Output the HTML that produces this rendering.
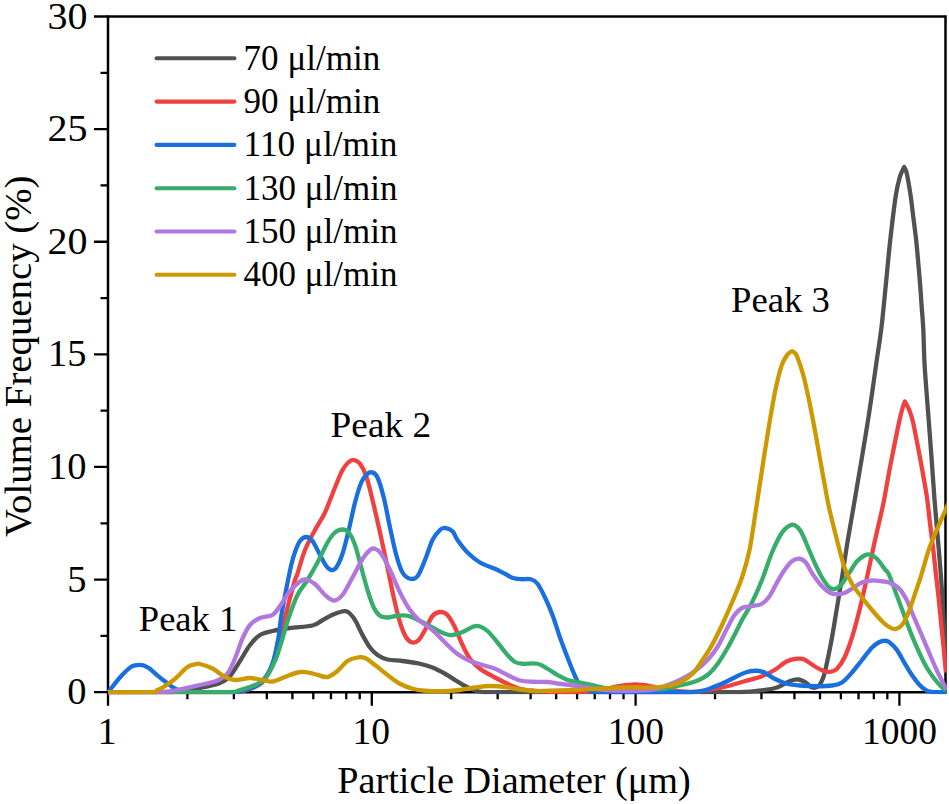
<!DOCTYPE html>
<html><head><meta charset="utf-8"><title>Particle size distribution</title>
<style>
html,body{margin:0;padding:0;background:#fff;}
body{width:949px;height:804px;overflow:hidden;}
svg{display:block;font-family:"Liberation Serif",serif;fill:#000;}
.tx{font-size:37.5px;}
.ty{font-size:38.5px;}
.lg{font-size:34.8px;}
.pk{font-size:35.6px;}
.c{fill:none;stroke-width:4.3;stroke-linejoin:round;stroke-linecap:butt;}
.ax{stroke:#000;stroke-width:2.5;fill:none;stroke-linecap:butt;}
</style></head>
<body>
<svg width="949" height="804" viewBox="0 0 949 804">
<rect width="949" height="804" fill="#fff"/>
<g class="ax">
<path d="M108.00 16.50 H945.50 V692.20 H108.00 Z"/>
<path stroke-width="2.3" d="M108.00 692.20H94.00M108.00 635.89H100.50M108.00 579.58H94.00M108.00 523.28H100.50M108.00 466.97H94.00M108.00 410.66H100.50M108.00 354.35H94.00M108.00 298.04H100.50M108.00 241.73H94.00M108.00 185.43H100.50M108.00 129.12H94.00M108.00 72.81H100.50M108.00 16.50H94.00M108.00 692.20V705.70M187.41 692.20V699.20M233.86 692.20V699.20M266.82 692.20V699.20M292.39 692.20V699.20M313.28 692.20V699.20M330.94 692.20V699.20M346.24 692.20V699.20M359.73 692.20V699.20M371.80 692.20V705.70M451.21 692.20V699.20M497.66 692.20V699.20M530.62 692.20V699.20M556.19 692.20V699.20M577.08 692.20V699.20M594.74 692.20V699.20M610.04 692.20V699.20M623.53 692.20V699.20M635.60 692.20V705.70M715.01 692.20V699.20M761.46 692.20V699.20M794.42 692.20V699.20M819.99 692.20V699.20M840.88 692.20V699.20M858.54 692.20V699.20M873.84 692.20V699.20M887.33 692.20V699.20M899.40 692.20V705.70"/>
</g>
<defs><clipPath id="cp"><rect x="106.75" y="15.25" width="840.10" height="679.20"/></clipPath></defs>
<g clip-path="url(#cp)">
<path class="c" stroke="#515151" d="M108.00 692.10 C115.00 692.10 138.83 692.15 150.00 692.10 C161.17 692.05 166.67 692.20 175.00 691.80 C183.33 691.12 192.50 689.47 200.00 688.00 C207.50 686.53 215.00 685.00 220.00 683.00 C225.00 681.00 226.67 679.67 230.00 676.00 C233.33 672.33 236.67 666.17 240.00 661.00 C243.33 655.83 246.67 649.33 250.00 645.00 C253.33 640.67 256.25 637.33 260.00 635.00 C263.75 632.67 267.50 632.17 272.50 631.00 C277.50 629.83 283.33 628.92 290.00 628.00 C296.67 627.08 307.17 626.75 312.50 625.50 C317.83 624.25 318.75 622.25 322.00 620.50 C325.25 618.75 328.67 616.50 332.00 615.00 C335.33 613.50 339.33 612.00 342.00 611.50 C344.67 611.00 345.83 610.58 348.00 612.00 C350.17 613.42 352.58 616.17 355.00 620.00 C357.42 623.83 360.00 630.42 362.50 635.00 C365.00 639.58 367.50 644.17 370.00 647.50 C372.50 650.83 374.58 653.00 377.50 655.00 C380.42 657.00 383.33 658.50 387.50 659.50 C391.67 660.50 397.08 660.29 402.50 661.00 C407.92 661.71 415.00 662.67 420.00 663.75 C425.00 664.83 428.33 665.83 432.50 667.50 C436.67 669.17 441.25 671.67 445.00 673.75 C448.75 675.83 451.67 677.96 455.00 680.00 C458.33 682.04 461.67 684.25 465.00 686.00 C468.33 687.75 472.00 689.48 475.00 690.50 C478.00 691.52 478.83 691.83 483.00 692.10 C487.17 692.20 480.50 692.10 500.00 692.10 C519.50 692.10 566.67 692.10 600.00 692.10 C633.33 692.10 676.67 692.10 700.00 692.10 C723.33 692.10 729.67 692.20 740.00 692.10 C750.33 691.80 755.83 691.07 762.00 690.30 C768.17 689.53 772.42 689.01 777.00 687.50 C781.58 685.99 785.96 682.58 789.50 681.25 C793.04 679.92 795.54 679.29 798.25 679.50 C800.96 679.71 803.46 681.17 805.75 682.50 C808.04 683.83 809.92 686.88 812.00 687.50 C814.08 688.12 816.38 687.92 818.25 686.25 C820.12 684.58 821.79 681.46 823.25 677.50 C824.71 673.54 825.54 669.17 827.00 662.50 C828.46 655.83 830.33 646.67 832.00 637.50 C833.67 628.33 835.33 617.50 837.00 607.50 C838.67 597.50 840.33 587.92 842.00 577.50 C843.67 567.08 845.17 556.25 847.00 545.00 C848.83 533.75 850.58 524.17 853.00 510.00 C855.42 495.83 858.78 476.33 861.50 460.00 C864.22 443.67 866.80 428.33 869.30 412.00 C871.80 395.67 874.47 376.17 876.50 362.00 C878.53 347.83 879.92 340.17 881.50 327.00 C883.08 313.83 884.53 297.57 886.00 283.00 C887.47 268.43 888.65 254.30 890.30 239.60 C891.95 224.90 894.30 205.25 895.90 194.80 C897.50 184.35 898.85 180.87 899.90 176.90 C900.95 172.93 901.48 172.65 902.20 171.00 C902.92 169.35 903.87 167.67 904.20 167.00 C904.52 167.67 905.55 169.35 906.10 171.00 C906.65 172.65 906.77 172.93 907.50 176.90 C908.23 180.87 909.53 188.12 910.50 194.80 C911.47 201.48 912.37 209.53 913.30 217.00 C914.23 224.47 915.28 232.10 916.10 239.60 C916.92 247.10 917.53 254.52 918.20 262.00 C918.87 269.48 919.52 277.00 920.10 284.50 C920.68 292.00 921.17 299.53 921.70 307.00 C922.23 314.47 922.82 319.67 923.30 329.30 C923.78 338.93 923.83 351.42 924.60 364.80 C925.37 378.18 926.78 394.65 927.90 409.60 C929.02 424.55 930.20 439.55 931.30 454.50 C932.40 469.45 933.25 483.42 934.50 499.30 C935.75 515.18 937.75 537.23 938.80 549.80 C939.85 562.37 940.18 566.40 940.80 574.70 C941.42 583.00 941.92 589.38 942.50 599.60 C943.08 609.82 943.78 625.27 944.30 636.00 C944.82 646.73 945.38 659.33 945.60 664.00"/>
<path class="c" stroke="#F14040" d="M108.00 692.10 C123.33 692.10 178.67 692.10 200.00 692.10 C221.33 692.10 227.67 692.20 236.00 692.10 C244.33 691.58 245.58 690.68 250.00 689.00 C254.42 687.32 258.75 686.00 262.50 682.00 C266.25 678.00 269.83 672.00 272.50 665.00 C275.17 658.00 276.92 646.17 278.50 640.00 C280.08 633.83 280.83 632.08 282.00 628.00 C283.17 623.92 284.17 620.50 285.50 615.50 C286.83 610.50 288.42 603.92 290.00 598.00 C291.58 592.08 293.75 584.08 295.00 580.00 C296.25 575.92 295.83 578.50 297.50 573.50 C299.17 568.50 302.08 557.25 305.00 550.00 C307.92 542.75 311.67 536.25 315.00 530.00 C318.33 523.75 321.67 519.58 325.00 512.50 C328.33 505.42 332.08 494.58 335.00 487.50 C337.92 480.42 340.21 474.25 342.50 470.00 C344.79 465.75 346.88 463.67 348.75 462.00 C350.62 460.33 351.88 459.71 353.75 460.00 C355.62 460.29 357.92 461.04 360.00 463.75 C362.08 466.46 364.17 470.21 366.25 476.25 C368.33 482.29 370.21 490.62 372.50 500.00 C374.79 509.38 377.50 521.25 380.00 532.50 C382.50 543.75 385.21 556.67 387.50 567.50 C389.79 578.33 391.67 588.33 393.75 597.50 C395.83 606.67 397.92 615.83 400.00 622.50 C402.08 629.17 404.17 634.17 406.25 637.50 C408.33 640.83 410.42 642.08 412.50 642.50 C414.58 642.92 416.67 642.08 418.75 640.00 C420.83 637.92 422.71 634.00 425.00 630.00 C427.29 626.00 430.00 619.00 432.50 616.00 C435.00 613.00 437.50 612.17 440.00 612.00 C442.50 611.83 445.00 612.42 447.50 615.00 C450.00 617.58 452.50 622.50 455.00 627.50 C457.50 632.50 460.00 639.79 462.50 645.00 C465.00 650.21 467.08 654.79 470.00 658.75 C472.92 662.71 475.83 665.62 480.00 668.75 C484.17 671.88 490.42 675.00 495.00 677.50 C499.58 680.00 503.33 681.88 507.50 683.75 C511.67 685.62 515.83 687.58 520.00 688.75 C524.17 689.92 527.50 690.24 532.50 690.75 C537.50 691.26 540.42 691.67 550.00 691.80 C559.58 691.92 580.50 692.01 590.00 691.50 C599.50 690.99 602.00 689.67 607.00 688.75 C612.00 687.83 615.33 686.71 620.00 686.00 C624.67 685.29 630.00 684.50 635.00 684.50 C640.00 684.50 645.50 685.29 650.00 686.00 C654.50 686.71 657.83 687.92 662.00 688.75 C666.17 689.58 670.33 690.49 675.00 691.00 C679.67 691.51 685.83 691.75 690.00 691.80 C694.17 691.85 696.33 691.68 700.00 691.30 C703.67 690.92 707.50 690.34 712.00 689.50 C716.50 688.66 721.58 687.62 727.00 686.25 C732.42 684.88 738.67 682.92 744.50 681.25 C750.33 679.58 757.00 678.12 762.00 676.25 C767.00 674.38 770.33 672.50 774.50 670.00 C778.67 667.50 783.25 663.12 787.00 661.25 C790.75 659.38 794.08 659.04 797.00 658.75 C799.92 658.46 801.58 658.25 804.50 659.50 C807.42 660.75 811.17 664.29 814.50 666.25 C817.83 668.21 821.79 670.33 824.50 671.25 C827.21 672.17 828.67 672.17 830.75 671.75 C832.83 671.33 834.71 671.12 837.00 668.75 C839.29 666.38 842.00 662.71 844.50 657.50 C847.00 652.29 849.50 645.42 852.00 637.50 C854.50 629.58 857.00 620.00 859.50 610.00 C862.00 600.00 864.50 588.75 867.00 577.50 C869.50 566.25 872.08 553.42 874.50 542.50 C876.92 531.58 879.88 519.20 881.50 512.00 C883.12 504.80 883.25 504.22 884.20 499.30 C885.15 494.38 886.18 488.10 887.20 482.50 C888.22 476.90 889.23 471.28 890.30 465.70 C891.37 460.12 892.48 454.62 893.60 449.00 C894.72 443.38 895.85 437.50 897.00 432.00 C898.15 426.50 899.50 420.25 900.50 416.00 C901.50 411.75 902.27 408.92 903.00 406.50 C903.73 404.08 904.58 402.33 904.90 401.50 C905.22 402.08 906.03 403.50 906.80 405.00 C907.57 406.50 908.52 407.87 909.50 410.50 C910.48 413.13 911.62 416.38 912.70 420.80 C913.78 425.22 914.88 431.38 916.00 437.00 C917.12 442.62 918.15 447.83 919.40 454.50 C920.65 461.17 922.20 469.53 923.50 477.00 C924.80 484.47 926.08 491.30 927.20 499.30 C928.32 507.30 929.18 516.58 930.20 525.00 C931.22 533.42 932.33 541.47 933.30 549.80 C934.27 558.13 935.08 566.70 936.00 575.00 C936.92 583.30 937.92 591.27 938.80 599.60 C939.68 607.93 940.47 616.70 941.30 625.00 C942.13 633.30 943.03 641.48 943.80 649.40 C944.57 657.32 945.55 668.65 945.90 672.50"/>
<path class="c" stroke="#1A6FDF" d="M108.50 692.10 C109.18 691.17 110.37 689.30 112.60 686.50 C114.83 683.70 118.95 678.48 121.90 675.30 C124.85 672.12 128.12 669.05 130.30 667.40 C132.48 665.75 133.45 665.83 135.00 665.40 C136.55 664.97 138.10 664.77 139.60 664.80 C141.10 664.83 142.47 665.05 144.00 665.60 C145.53 666.15 146.58 666.48 148.80 668.10 C151.02 669.72 154.48 672.98 157.30 675.30 C160.12 677.62 163.17 680.03 165.70 682.00 C168.23 683.97 170.12 685.60 172.50 687.10 C174.88 688.60 177.75 690.17 180.00 691.00 C182.25 691.83 182.67 691.92 186.00 692.10 C189.33 692.20 191.83 692.10 200.00 692.10 C208.17 692.10 226.67 692.20 235.00 692.10 C243.33 691.50 245.42 690.35 250.00 688.50 C254.58 686.65 258.75 685.17 262.50 681.00 C266.25 676.83 269.79 671.00 272.50 663.50 C275.21 656.00 277.33 643.67 278.75 636.00 C280.17 628.33 279.88 624.67 281.00 617.50 C282.12 610.33 283.83 601.58 285.50 593.00 C287.17 584.42 289.42 572.83 291.00 566.00 C292.58 559.17 293.50 556.17 295.00 552.00 C296.50 547.83 298.12 543.50 300.00 541.00 C301.88 538.50 304.17 537.00 306.25 537.00 C308.33 537.00 310.21 538.00 312.50 541.00 C314.79 544.00 317.71 550.83 320.00 555.00 C322.29 559.17 324.38 563.50 326.25 566.00 C328.12 568.50 329.58 569.75 331.25 570.00 C332.92 570.25 334.38 570.21 336.25 567.50 C338.12 564.79 340.42 560.00 342.50 553.75 C344.58 547.50 346.67 538.54 348.75 530.00 C350.83 521.46 352.92 510.42 355.00 502.50 C357.08 494.58 359.17 487.29 361.25 482.50 C363.33 477.71 365.62 475.42 367.50 473.75 C369.38 472.08 370.83 471.88 372.50 472.50 C374.17 473.12 375.62 473.33 377.50 477.50 C379.38 481.67 381.67 489.17 383.75 497.50 C385.83 505.83 387.92 517.92 390.00 527.50 C392.08 537.08 394.17 547.50 396.25 555.00 C398.33 562.50 400.21 568.54 402.50 572.50 C404.79 576.46 407.50 578.12 410.00 578.75 C412.50 579.38 415.00 579.38 417.50 576.25 C420.00 573.12 422.50 566.04 425.00 560.00 C427.50 553.96 430.00 545.00 432.50 540.00 C435.00 535.00 437.92 532.00 440.00 530.00 C442.08 528.00 442.92 527.79 445.00 528.00 C447.08 528.21 450.42 529.25 452.50 531.25 C454.58 533.25 455.00 536.46 457.50 540.00 C460.00 543.54 463.75 548.75 467.50 552.50 C471.25 556.25 475.42 559.79 480.00 562.50 C484.58 565.21 490.83 566.88 495.00 568.75 C499.17 570.62 502.00 572.21 505.00 573.75 C508.00 575.29 510.33 577.09 513.00 578.00 C515.67 578.91 518.00 578.98 521.00 579.20 C524.00 579.42 528.25 578.54 531.00 579.30 C533.75 580.06 535.17 580.72 537.50 583.75 C539.83 586.78 542.50 592.29 545.00 597.50 C547.50 602.71 550.00 608.33 552.50 615.00 C555.00 621.67 557.50 630.42 560.00 637.50 C562.50 644.58 565.00 651.08 567.50 657.50 C570.00 663.92 572.92 671.42 575.00 676.00 C577.08 680.58 577.92 682.67 580.00 685.00 C582.08 687.33 584.17 688.82 587.50 690.00 C590.83 691.18 589.58 691.75 600.00 692.10 C610.42 692.20 635.00 692.10 650.00 692.10 C665.00 692.10 681.67 692.20 690.00 692.10 C698.33 691.95 697.17 691.62 700.00 691.20 C702.83 690.78 704.67 690.33 707.00 689.60 C709.33 688.87 711.08 687.98 714.00 686.80 C716.92 685.62 720.67 684.26 724.50 682.50 C728.33 680.74 733.25 678.00 737.00 676.25 C740.75 674.50 743.67 672.92 747.00 672.00 C750.33 671.08 754.08 670.67 757.00 670.75 C759.92 670.83 761.58 671.17 764.50 672.50 C767.42 673.83 770.75 676.88 774.50 678.75 C778.25 680.62 782.83 682.62 787.00 683.75 C791.17 684.88 794.50 685.08 799.50 685.50 C804.50 685.92 811.58 686.25 817.00 686.25 C822.42 686.25 827.83 686.12 832.00 685.50 C836.17 684.88 838.67 684.67 842.00 682.50 C845.33 680.33 848.67 676.25 852.00 672.50 C855.33 668.75 858.67 664.17 862.00 660.00 C865.33 655.83 869.08 650.50 872.00 647.50 C874.92 644.50 877.42 643.12 879.50 642.00 C881.58 640.88 882.92 640.77 884.50 640.75 C886.08 640.73 887.00 640.46 889.00 641.90 C891.00 643.34 894.02 646.08 896.50 649.40 C898.98 652.72 901.42 657.65 903.90 661.80 C906.38 665.95 908.90 670.57 911.40 674.30 C913.90 678.03 916.42 681.52 918.90 684.20 C921.38 686.88 923.82 689.08 926.30 690.40 C928.78 691.72 930.43 691.82 933.80 692.10 C937.17 692.20 944.38 692.10 946.50 692.10"/>
<path class="c" stroke="#37AD6B" d="M108.00 692.10 C120.33 692.10 161.67 692.10 182.00 692.10 C202.33 692.10 220.33 692.20 230.00 692.10 C239.67 691.75 235.83 691.18 240.00 690.00 C244.17 688.82 250.83 686.92 255.00 685.00 C259.17 683.08 261.67 682.50 265.00 678.50 C268.33 674.50 272.08 667.67 275.00 661.00 C277.92 654.33 280.21 645.75 282.50 638.50 C284.79 631.25 286.25 624.75 288.75 617.50 C291.25 610.25 294.38 601.25 297.50 595.00 C300.62 588.75 304.17 585.42 307.50 580.00 C310.83 574.58 314.17 568.75 317.50 562.50 C320.83 556.25 324.58 547.50 327.50 542.50 C330.42 537.50 332.50 534.67 335.00 532.50 C337.50 530.33 340.21 529.50 342.50 529.50 C344.79 529.50 346.67 529.92 348.75 532.50 C350.83 535.08 352.92 539.17 355.00 545.00 C357.08 550.83 359.17 560.00 361.25 567.50 C363.33 575.00 365.42 583.33 367.50 590.00 C369.58 596.67 371.67 603.21 373.75 607.50 C375.83 611.79 377.71 614.08 380.00 615.75 C382.29 617.42 384.58 617.50 387.50 617.50 C390.42 617.50 394.17 616.04 397.50 615.75 C400.83 615.46 403.75 614.88 407.50 615.75 C411.25 616.62 415.83 619.04 420.00 621.00 C424.17 622.96 428.33 625.38 432.50 627.50 C436.67 629.62 441.67 632.50 445.00 633.75 C448.33 635.00 449.58 635.29 452.50 635.00 C455.42 634.71 459.17 633.33 462.50 632.00 C465.83 630.67 469.79 628.00 472.50 627.00 C475.21 626.00 476.25 625.33 478.75 626.00 C481.25 626.67 484.38 628.25 487.50 631.00 C490.62 633.75 494.17 638.50 497.50 642.50 C500.83 646.50 504.58 651.75 507.50 655.00 C510.42 658.25 512.50 660.54 515.00 662.00 C517.50 663.46 518.75 663.46 522.50 663.75 C526.25 664.04 533.33 662.92 537.50 663.75 C541.67 664.58 544.17 666.88 547.50 668.75 C550.83 670.62 554.17 673.12 557.50 675.00 C560.83 676.88 563.75 678.75 567.50 680.00 C571.25 681.25 575.83 681.67 580.00 682.50 C584.17 683.33 588.33 684.08 592.50 685.00 C596.67 685.92 600.42 687.29 605.00 688.00 C609.58 688.71 614.17 689.00 620.00 689.25 C625.83 689.50 632.92 689.54 640.00 689.50 C647.08 689.46 655.83 689.67 662.50 689.00 C669.17 688.33 674.58 686.75 680.00 685.50 C685.42 684.25 690.42 683.25 695.00 681.50 C699.58 679.75 703.75 677.92 707.50 675.00 C711.25 672.08 714.17 668.50 717.50 664.00 C720.83 659.50 724.25 653.67 727.50 648.00 C730.75 642.33 734.58 634.67 737.00 630.00 C739.42 625.33 739.50 624.58 742.00 620.00 C744.50 615.42 748.67 609.17 752.00 602.50 C755.33 595.83 758.67 588.33 762.00 580.00 C765.33 571.67 768.67 560.42 772.00 552.50 C775.33 544.58 779.08 536.96 782.00 532.50 C784.92 528.04 787.42 527.00 789.50 525.75 C791.58 524.50 792.62 524.08 794.50 525.00 C796.38 525.92 798.67 527.92 800.75 531.25 C802.83 534.58 804.71 539.79 807.00 545.00 C809.29 550.21 812.00 557.08 814.50 562.50 C817.00 567.92 819.50 573.33 822.00 577.50 C824.50 581.67 827.21 585.62 829.50 587.50 C831.79 589.38 833.67 589.38 835.75 588.75 C837.83 588.12 839.71 586.46 842.00 583.75 C844.29 581.04 847.00 576.25 849.50 572.50 C852.00 568.75 854.50 564.08 857.00 561.25 C859.50 558.42 862.42 556.62 864.50 555.50 C866.58 554.38 867.42 553.96 869.50 554.50 C871.58 555.04 874.50 556.38 877.00 558.75 C879.50 561.12 882.50 566.09 884.50 568.75 C886.50 571.41 887.00 570.39 889.00 574.70 C891.00 579.01 894.02 587.97 896.50 594.60 C898.98 601.23 901.42 607.87 903.90 614.50 C906.38 621.13 908.90 628.17 911.40 634.40 C913.90 640.63 916.42 646.50 918.90 651.90 C921.38 657.30 923.82 662.45 926.30 666.80 C928.78 671.15 931.30 674.68 933.80 678.00 C936.30 681.32 939.18 684.60 941.30 686.70 C943.42 688.80 945.63 689.95 946.50 690.60"/>
<path class="c" stroke="#B177DE" d="M108.00 692.10 C116.25 692.10 146.33 692.20 157.50 692.10 C168.67 691.83 167.92 691.68 175.00 690.50 C182.08 689.32 192.92 686.67 200.00 685.00 C207.08 683.33 212.92 682.42 217.50 680.50 C222.08 678.58 224.58 677.17 227.50 673.50 C230.42 669.83 232.50 664.33 235.00 658.50 C237.50 652.67 240.00 644.08 242.50 638.50 C245.00 632.92 247.08 628.42 250.00 625.00 C252.92 621.58 256.25 619.67 260.00 618.00 C263.75 616.33 269.17 617.00 272.50 615.00 C275.83 613.00 277.08 610.00 280.00 606.00 C282.92 602.00 286.67 595.08 290.00 591.00 C293.33 586.92 297.33 583.42 300.00 581.50 C302.67 579.58 303.50 579.08 306.00 579.50 C308.50 579.92 311.83 581.42 315.00 584.00 C318.17 586.58 321.88 592.25 325.00 595.00 C328.12 597.75 330.83 600.50 333.75 600.50 C336.67 600.50 339.38 598.83 342.50 595.00 C345.62 591.17 349.17 583.50 352.50 577.50 C355.83 571.50 359.58 563.58 362.50 559.00 C365.42 554.42 367.92 551.71 370.00 550.00 C372.08 548.29 373.12 548.12 375.00 548.75 C376.88 549.38 378.75 550.21 381.25 553.75 C383.75 557.29 386.88 563.54 390.00 570.00 C393.12 576.46 396.67 585.83 400.00 592.50 C403.33 599.17 406.67 605.25 410.00 610.00 C413.33 614.75 416.25 617.67 420.00 621.00 C423.75 624.33 428.33 626.42 432.50 630.00 C436.67 633.58 440.83 638.50 445.00 642.50 C449.17 646.50 453.33 650.92 457.50 654.00 C461.67 657.08 465.83 659.17 470.00 661.00 C474.17 662.83 478.33 663.71 482.50 665.00 C486.67 666.29 490.83 667.08 495.00 668.75 C499.17 670.42 503.33 673.04 507.50 675.00 C511.67 676.96 515.83 679.38 520.00 680.50 C524.17 681.62 527.92 681.50 532.50 681.75 C537.08 682.00 542.92 681.67 547.50 682.00 C552.08 682.33 555.42 683.12 560.00 683.75 C564.58 684.38 570.00 685.04 575.00 685.75 C580.00 686.46 585.00 687.29 590.00 688.00 C595.00 688.71 599.17 689.54 605.00 690.00 C610.83 690.46 617.50 690.75 625.00 690.75 C632.50 690.75 643.33 690.79 650.00 690.00 C656.67 689.21 660.00 687.67 665.00 686.00 C670.00 684.33 675.00 682.50 680.00 680.00 C685.00 677.50 690.42 674.33 695.00 671.00 C699.58 667.67 703.75 664.00 707.50 660.00 C711.25 656.00 714.25 652.25 717.50 647.00 C720.75 641.75 724.17 633.83 727.00 628.50 C729.83 623.17 732.00 618.42 734.50 615.00 C737.00 611.58 739.08 609.46 742.00 608.00 C744.92 606.54 748.67 606.96 752.00 606.25 C755.33 605.54 759.08 605.42 762.00 603.75 C764.92 602.08 767.00 599.79 769.50 596.25 C772.00 592.71 774.50 586.88 777.00 582.50 C779.50 578.12 782.00 573.54 784.50 570.00 C787.00 566.46 789.50 563.12 792.00 561.25 C794.50 559.38 797.21 558.54 799.50 558.75 C801.79 558.96 803.46 559.79 805.75 562.50 C808.04 565.21 810.54 571.04 813.25 575.00 C815.96 578.96 819.29 583.33 822.00 586.25 C824.71 589.17 827.00 591.17 829.50 592.50 C832.00 593.83 834.50 594.17 837.00 594.25 C839.50 594.33 842.00 593.92 844.50 593.00 C847.00 592.08 849.08 590.50 852.00 588.75 C854.92 587.00 858.67 583.88 862.00 582.50 C865.33 581.12 868.67 580.70 872.00 580.50 C875.33 580.30 879.17 580.95 882.00 581.30 C884.83 581.65 886.17 581.42 889.00 582.60 C891.83 583.78 896.10 585.57 899.00 588.40 C901.90 591.23 903.92 594.83 906.40 599.60 C908.88 604.37 911.40 611.20 913.90 617.00 C916.40 622.80 918.92 628.58 921.40 634.40 C923.88 640.22 926.32 646.08 928.80 651.90 C931.28 657.72 934.02 664.33 936.30 669.30 C938.58 674.27 940.80 678.33 942.50 681.70 C944.20 685.07 945.83 688.20 946.50 689.50"/>
<path class="c" stroke="#CC9900" d="M108.00 692.10 C115.17 692.10 142.92 692.20 151.00 692.10 C159.08 691.85 154.42 691.45 156.50 690.60 C158.58 689.75 160.42 688.97 163.50 687.00 C166.58 685.03 171.00 682.13 175.00 678.80 C179.00 675.47 184.17 669.42 187.50 667.00 C190.83 664.58 192.92 664.80 195.00 664.30 C197.08 663.80 197.08 663.30 200.00 664.00 C202.92 664.70 208.33 666.33 212.50 668.50 C216.67 670.67 221.25 675.08 225.00 677.00 C228.75 678.92 230.83 679.83 235.00 680.00 C239.17 680.17 245.42 678.00 250.00 678.00 C254.58 678.00 258.75 679.42 262.50 680.00 C266.25 680.58 268.75 682.00 272.50 681.50 C276.25 681.00 280.42 678.58 285.00 677.00 C289.58 675.42 295.42 672.58 300.00 672.00 C304.58 671.42 308.33 672.67 312.50 673.50 C316.67 674.33 322.08 676.58 325.00 677.00 C327.92 677.42 327.92 677.00 330.00 676.00 C332.08 675.00 334.58 673.50 337.50 671.00 C340.42 668.50 344.17 663.25 347.50 661.00 C350.83 658.75 354.58 658.00 357.50 657.50 C360.42 657.00 362.08 656.75 365.00 658.00 C367.92 659.25 371.25 662.17 375.00 665.00 C378.75 667.83 383.33 671.88 387.50 675.00 C391.67 678.12 395.83 681.46 400.00 683.75 C404.17 686.04 408.33 687.58 412.50 688.75 C416.67 689.92 419.58 690.34 425.00 690.75 C430.42 691.16 439.17 691.33 445.00 691.20 C450.83 691.08 455.00 690.62 460.00 690.00 C465.00 689.38 470.00 688.17 475.00 687.50 C480.00 686.83 485.00 686.08 490.00 686.00 C495.00 685.92 500.00 686.42 505.00 687.00 C510.00 687.58 515.00 688.83 520.00 689.50 C525.00 690.17 530.00 690.79 535.00 691.00 C540.00 691.21 543.33 690.92 550.00 690.75 C556.67 690.58 566.67 690.33 575.00 690.00 C583.33 689.67 591.67 689.17 600.00 688.75 C608.33 688.33 616.67 687.71 625.00 687.50 C633.33 687.29 642.92 687.75 650.00 687.50 C657.08 687.25 662.50 686.83 667.50 686.00 C672.50 685.17 675.83 684.54 680.00 682.50 C684.17 680.46 688.75 677.50 692.50 673.75 C696.25 670.00 699.25 664.79 702.50 660.00 C705.75 655.21 708.75 650.83 712.00 645.00 C715.25 639.17 718.67 632.08 722.00 625.00 C725.33 617.92 728.67 610.42 732.00 602.50 C735.33 594.58 739.08 586.25 742.00 577.50 C744.92 568.75 747.21 561.08 749.50 550.00 C751.79 538.92 753.67 524.33 755.75 511.00 C757.83 497.67 759.84 483.92 762.00 470.00 C764.16 456.08 766.47 440.83 768.70 427.50 C770.93 414.17 773.22 400.42 775.40 390.00 C777.58 379.58 779.80 370.87 781.80 365.00 C783.80 359.13 786.00 356.92 787.40 354.80 C788.80 352.68 789.40 352.90 790.20 352.30 C791.00 351.70 791.87 351.38 792.20 351.20 C792.53 351.42 793.40 351.66 794.20 352.50 C795.00 353.34 795.49 352.50 797.00 356.25 C798.51 360.00 801.17 367.29 803.25 375.00 C805.33 382.71 807.42 392.50 809.50 402.50 C811.58 412.50 813.67 423.75 815.75 435.00 C817.83 446.25 819.88 458.33 822.00 470.00 C824.12 481.67 826.83 496.67 828.50 505.00 C830.17 513.33 830.38 513.33 832.00 520.00 C833.62 526.67 836.17 537.08 838.25 545.00 C840.33 552.92 842.21 561.04 844.50 567.50 C846.79 573.96 849.08 578.75 852.00 583.75 C854.92 588.75 858.67 593.12 862.00 597.50 C865.33 601.88 868.67 606.04 872.00 610.00 C875.33 613.96 879.17 618.42 882.00 621.25 C884.83 624.08 886.80 625.71 889.00 627.00 C891.20 628.29 893.13 629.22 895.20 629.00 C897.27 628.78 899.32 628.12 901.40 625.70 C903.48 623.28 905.62 619.27 907.70 614.50 C909.78 609.73 911.62 603.73 913.90 597.10 C916.18 590.47 918.92 582.58 921.40 574.70 C923.88 566.82 926.32 557.10 928.80 549.80 C931.28 542.50 934.25 535.87 936.30 530.90 C938.35 525.93 939.57 523.48 941.10 520.00 C942.63 516.52 944.18 513.00 945.50 510.00 C946.82 507.00 948.42 503.33 949.00 502.00"/>
</g>
<g class="ty" text-anchor="end">
<text x="86.4" y="704.20">0</text>
<text x="86.4" y="591.58">5</text>
<text x="86.4" y="478.97">10</text>
<text x="86.4" y="366.35">15</text>
<text x="87.4" y="253.73" textLength="40" lengthAdjust="spacingAndGlyphs">20</text>
<text x="87.4" y="141.12" textLength="40" lengthAdjust="spacingAndGlyphs">25</text>
<text x="87.4" y="28.50" textLength="40" lengthAdjust="spacingAndGlyphs">30</text>
</g>
<g class="tx" text-anchor="middle">
<text x="107.20" y="744.4">1</text>
<text x="371.30" y="744.4">10</text>
<text x="635.80" y="744.4">100</text>
<text x="899.60" y="744.4">1000</text>
</g>
<text x="514" y="793" font-size="37.2" text-anchor="middle" textLength="353.5" lengthAdjust="spacingAndGlyphs">Particle Diameter (μm)</text>
<text transform="translate(31.2 356.2) rotate(-90)" font-size="37.6" text-anchor="middle" textLength="361.5" lengthAdjust="spacingAndGlyphs">Volume Frequency (%)</text>
<path d="M156.6 58.30H234.4" stroke="#515151" stroke-width="4.1" stroke-linecap="round" fill="none"/>
<text class="lg" x="243.6" y="69.70" textLength="136.6" lengthAdjust="spacingAndGlyphs">70 μl/min</text>
<path d="M156.6 101.60H234.4" stroke="#F14040" stroke-width="4.1" stroke-linecap="round" fill="none"/>
<text class="lg" x="243.6" y="113.00" textLength="136.6" lengthAdjust="spacingAndGlyphs">90 μl/min</text>
<path d="M156.6 144.90H234.4" stroke="#1A6FDF" stroke-width="4.1" stroke-linecap="round" fill="none"/>
<text class="lg" x="243.6" y="156.30" textLength="153.8" lengthAdjust="spacingAndGlyphs">110 μl/min</text>
<path d="M156.6 188.20H234.4" stroke="#37AD6B" stroke-width="4.1" stroke-linecap="round" fill="none"/>
<text class="lg" x="243.6" y="199.60" textLength="153.8" lengthAdjust="spacingAndGlyphs">130 μl/min</text>
<path d="M156.6 231.50H234.4" stroke="#B177DE" stroke-width="4.1" stroke-linecap="round" fill="none"/>
<text class="lg" x="243.6" y="242.90" textLength="153.8" lengthAdjust="spacingAndGlyphs">150 μl/min</text>
<path d="M156.6 274.80H234.4" stroke="#CC9900" stroke-width="4.1" stroke-linecap="round" fill="none"/>
<text class="lg" x="243.6" y="286.20" textLength="153.8" lengthAdjust="spacingAndGlyphs">400 μl/min</text>
<text class="pk" x="138.8" y="630.6" textLength="98.5" lengthAdjust="spacingAndGlyphs">Peak 1</text>
<text class="pk" x="330.6" y="436.8" textLength="100.5" lengthAdjust="spacingAndGlyphs">Peak 2</text>
<text class="pk" x="731" y="312.4" textLength="98.8" lengthAdjust="spacingAndGlyphs">Peak 3</text>
</svg>
</body></html>
